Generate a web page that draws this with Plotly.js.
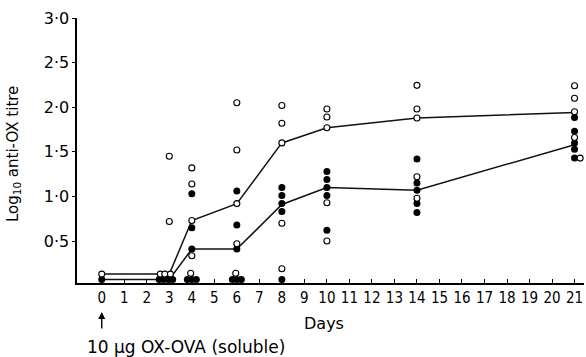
<!DOCTYPE html>
<html>
<head>
<meta charset="utf-8">
<script src="https://cdn.plot.ly/plotly-3.0.1.min.js"></script>
<style>html,body{margin:0;padding:0;background:#fff;}#chart{width:586px;height:357px;}</style>
</head>
<body>
<div id="chart"></div>
<script>
// Mean lines
const meanDays = [0, 3, 4, 6, 8, 10, 14, 21];
const openMean = [0.13, 0.13, 0.73, 0.92, 1.60, 1.77, 1.88, 1.94];
const filledMean = [0.07, 0.07, 0.41, 0.41, 0.91, 1.10, 1.07, 1.58];

// Individual open-circle animals (day, log10 titre)
const openDays = [0, 2.6, 2.8, 3.05, 3.0, 3.0, 4, 4, 4, 4, 3.95, 6, 6, 6, 6, 5.95,
  8, 8, 8, 8, 8, 10, 10, 10, 10, 10, 14, 14, 14, 14, 14, 21, 21, 21, 21, 21.25];
const openVals = [0.13, 0.13, 0.13, 0.13, 0.72, 1.45, 1.32, 1.14, 0.73, 0.335, 0.14,
  2.05, 1.52, 0.92, 0.47, 0.14, 2.02, 1.82, 1.60, 0.70, 0.19,
  1.98, 1.89, 1.77, 0.93, 0.50, 2.245, 1.98, 1.88, 1.22, 0.98,
  2.24, 2.10, 1.95, 1.66, 1.43];

// Individual filled-circle animals
const filledDays = [0, 2.55, 2.75, 2.95, 3.15, 4, 4, 4, 3.8, 4.0, 4.2, 6, 6, 6, 5.8, 6.0, 6.2,
  8, 8, 8, 8, 8, 10, 10, 10, 10, 10, 14, 14, 14, 14, 14, 21, 21, 21, 21, 21];
const filledVals = [0.07, 0.07, 0.07, 0.07, 0.07, 1.03, 0.65, 0.41, 0.07, 0.07, 0.07,
  1.06, 0.68, 0.41, 0.07, 0.07, 0.07, 1.10, 1.01, 0.92, 0.83, 0.07,
  1.28, 1.19, 1.10, 1.01, 0.62, 1.42, 1.15, 1.07, 0.92, 0.82,
  1.885, 1.73, 1.60, 1.53, 1.43];

const xTickVals = [0,1,2,3,4,5,6,7,8,9,10,11,12,13,14,15,16,17,18,19,20,21];
const xTickText = xTickVals.map(String);
const yTickVals = [0.5, 1.0, 1.5, 2.0, 2.5, 3.0];
const yTickText = ['0·5', '1·0', '1·5', '2·0', '2·5', '3·0'];

const font = 'DejaVu Sans, sans-serif';
const condFont = 'DejaVu Sans Condensed, Liberation Sans Narrow, DejaVu Sans, sans-serif';

const traces = [
  {x: meanDays, y: openMean, mode: 'lines', line: {color: '#111', width: 1.5}, hoverinfo: 'skip'},
  {x: meanDays, y: filledMean, mode: 'lines', line: {color: '#111', width: 1.5}, hoverinfo: 'skip'},
  {x: filledDays, y: filledVals, mode: 'markers', cliponaxis: false,
   marker: {symbol: 'circle', size: 7, color: '#000', line: {color: '#000', width: 0}}},
  {x: openDays, y: openVals, mode: 'markers', cliponaxis: false,
   marker: {symbol: 'circle', size: 6, color: '#fff', line: {color: '#000', width: 1.1}}}
];

const layout = {
  width: 586, height: 357,
  margin: {l: 77, r: 2, t: 18, b: 74},
  paper_bgcolor: '#fff', plot_bgcolor: '#fff',
  showlegend: false,
  font: {family: font, color: '#000', size: 14},
  xaxis: {
    range: [-1.1, 21.42], tickvals: xTickVals, ticktext: xTickText,
    ticks: 'inside', ticklen: 4, tickcolor: '#000', tickwidth: 1,
    showline: true, linecolor: '#000', linewidth: 1.6,
    showgrid: false, zeroline: false,
    tickfont: {family: condFont, size: 15}
  },
  yaxis: {
    range: [0.03, 3.0], tickvals: yTickVals, ticktext: yTickText,
    ticks: 'outside', ticklen: 3, tickcolor: '#000', tickwidth: 1,
    showline: true, linecolor: '#000', linewidth: 1.6,
    showgrid: false, zeroline: false,
    tickfont: {family: font, size: 16}
  },
  annotations: [
    {text: 'Log<sub>10</sub> anti-OX titre', xref: 'paper', yref: 'paper',
     x: -0.124, y: 0.487, textangle: -90, showarrow: false,
     xanchor: 'center', yanchor: 'middle', font: {family: font, size: 15}},
    {text: 'Days', xref: 'paper', yref: 'paper', x: 0.487, y: -0.151,
     showarrow: false, xanchor: 'center', yanchor: 'middle', font: {family: font, size: 16}},
    {text: '', xref: 'x', yref: 'paper', x: 0, y: -0.109,
     showarrow: true, ax: 0, ay: 18, arrowhead: 2, arrowsize: 1, arrowwidth: 1.4, arrowcolor: '#000'},
    {text: '10 μg OX-OVA (soluble)', xref: 'paper', yref: 'paper', x: 0.0158, y: -0.2415,
     showarrow: false, xanchor: 'left', yanchor: 'middle', font: {family: font, size: 17}}
  ]
};

Plotly.newPlot('chart', traces, layout, {staticPlot: true, displayModeBar: false});
</script>
</body>
</html>
